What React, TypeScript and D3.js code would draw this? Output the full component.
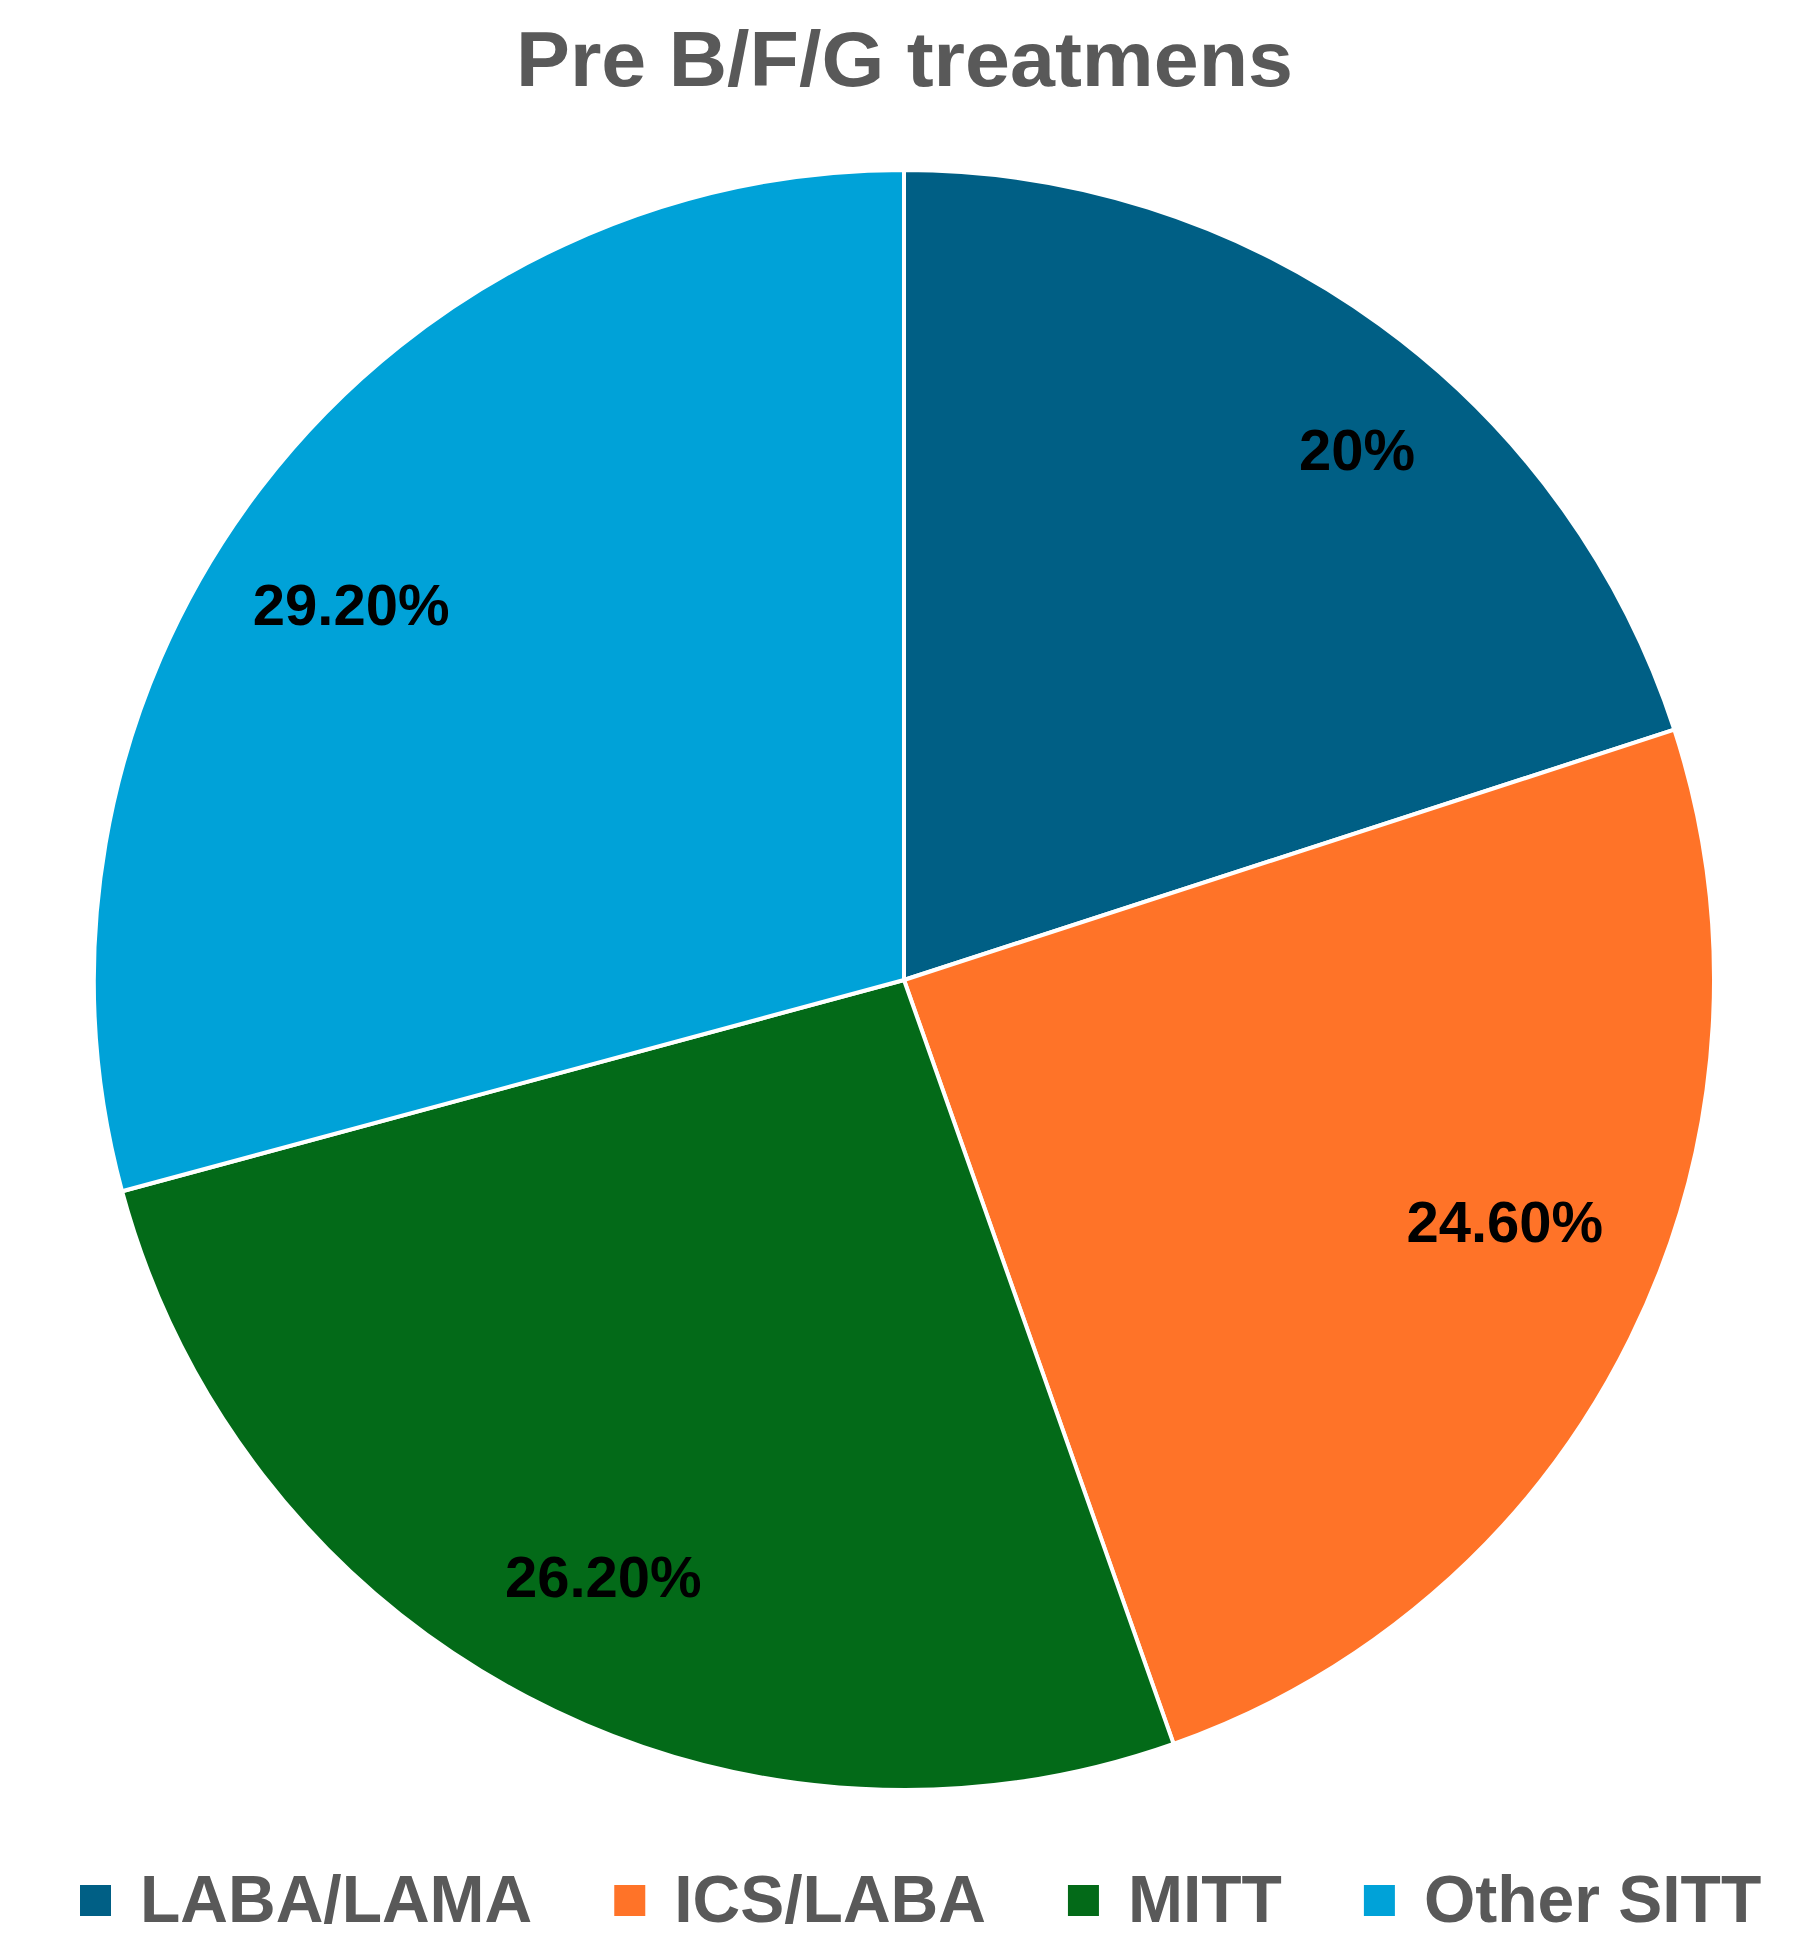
import React, { useEffect, useRef } from "react";
import * as d3 from "d3";

const categories = ["LABA/LAMA", "ICS/LABA", "MITT", "Other SITT"];
const values = [20, 24.6, 26.2, 29.2];
const labels = ["20%", "24.60%", "26.20%", "29.20%"];
const colors = ["#005F85", "#FF7328", "#036A18", "#00A2D8"];
const labelNudge: [number, number][] = [[58, 13], [-2, -57], [12, 1], [-19, 33]];
const title = "Pre B/F/G treatmens";

const W = 1801;
const H = 1959;
const CX = 904;
const CY = 980;
const R = 810;

export default function App() {
  const ref = useRef<SVGSVGElement>(null);

  useEffect(() => {
    document.body.style.margin = "0";
    const svg = d3.select(ref.current);
    svg.selectAll("*").remove();

    svg.append("rect").attr("width", W).attr("height", H).attr("fill", "#ffffff");

    svg
      .append("text")
      .attr("x", 516)
      .attr("y", 86)
      .attr("textLength", 777)
      .attr("lengthAdjust", "spacingAndGlyphs")
      .attr("font-family", "'Liberation Sans', Arial, sans-serif")
      .attr("font-weight", "bold")
      .attr("font-size", 77)
      .attr("fill", "#595959")
      .text(title);

    const pie = d3.pie<number>().sort(null).value((d) => d);
    const arcs = pie(values);
    const arc = d3.arc<d3.PieArcDatum<number>>().innerRadius(0).outerRadius(R);
    const labelArc = d3.arc<d3.PieArcDatum<number>>().innerRadius(R * 0.83).outerRadius(R * 0.83);

    const g = svg.append("g").attr("transform", `translate(${CX},${CY})`);
    g.selectAll("path")
      .data(arcs)
      .join("path")
      .attr("d", arc)
      .attr("fill", (_, i) => colors[i])
      .attr("stroke", "#ffffff")
      .attr("stroke-width", 4)
      .attr("stroke-linejoin", "round");

    g.selectAll("text.lbl")
      .data(arcs)
      .join("text")
      .attr("class", "lbl")
      .attr("x", (d, i) => labelArc.centroid(d)[0] + labelNudge[i][0])
      .attr("y", (d, i) => labelArc.centroid(d)[1] + labelNudge[i][1] + 21)
      .attr("text-anchor", "middle")
      .attr("font-family", "'Liberation Sans', Arial, sans-serif")
      .attr("font-weight", "bold")
      .attr("font-size", 58)
      .attr("fill", "#000000")
      .text((_, i) => labels[i]);

    // legend
    const lg = svg.append("g");
    let x = 80;
    const sq = 31;
    const baseline = 1922;
    categories.forEach((c, i) => {
      lg.append("rect")
        .attr("x", x)
        .attr("y", 1885)
        .attr("width", sq)
        .attr("height", sq)
        .attr("fill", colors[i]);
      const t = lg
        .append("text")
        .attr("x", x + sq + 29)
        .attr("y", baseline)
        .attr("font-family", "'Liberation Sans', Arial, sans-serif")
        .attr("font-weight", "bold")
        .attr("font-size", 66)
        .attr("fill", "#595959")
        .text(c);
      const w = (t.node() as SVGTextElement).getComputedTextLength();
      x = x + sq + 29 + w + 82;
    });
  }, []);

  return (
    <svg
      ref={ref}
      width={W}
      height={H}
      viewBox={`0 0 ${W} ${H}`}
      style={{ display: "block", position: "absolute", left: 0, top: 0 }}
    />
  );
}
